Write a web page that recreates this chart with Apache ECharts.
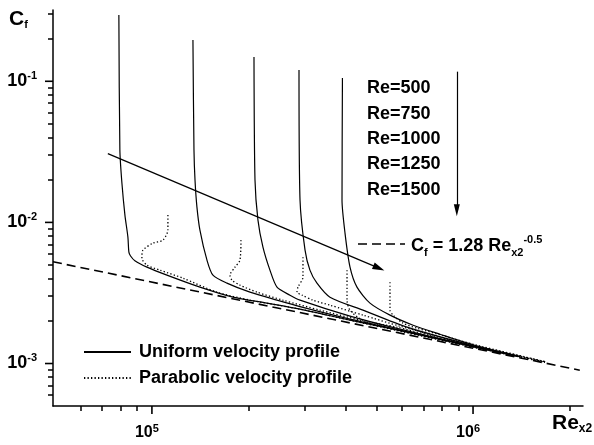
<!DOCTYPE html>
<html><head><meta charset="utf-8">
<script src="https://cdn.jsdelivr.net/npm/echarts@6/dist/echarts.min.js"></script>
<style>html,body{margin:0;padding:0;background:#fff}#c{width:594px;height:445px}</style>
</head><body><div id="c"></div>
<script>
// ---------- data (Re_x2, Cf) ----------
const uniform500  = [[78900,0.2951],[79470,0.03257],[80640,0.0190],[82400,0.01127],[84180,0.007866],[84780,0.00616],[85800,0.00578],[88500,0.00535],[96480,0.004819],[111350,0.004228],[141100,0.003476],[178800,0.002953],[228200,0.002678],[289200,0.002428],[413900,0.002028],[592400,0.001709],[1000000,0.001316],[1401000,0.001117]];
const uniform750  = [[134200,0.1963],[135200,0.03257],[136200,0.01995],[138100,0.01284],[141100,0.00882],[148400,0.005402],[154900,0.004228],[171200,0.003711],[202000,0.003204],[245200,0.002811],[289200,0.002528],[413900,0.002062],[592400,0.001723],[1000000,0.001316],[1401000,0.001117]];
const uniform1000 = [[207900,0.1487],[209400,0.01995],[213900,0.01038],[221700,0.00668],[233100,0.004589],[245200,0.003476],[269100,0.003051],[289200,0.002811],[413900,0.002166],[592400,0.001751],[1000000,0.001327],[1401000,0.001117]];
const uniform1250 = [[287100,0.1202],[289200,0.01439],[299800,0.00636],[310500,0.004589],[326600,0.003711],[358500,0.002953],[454300,0.002388],[622900,0.001809],[1000000,0.001337],[1401000,0.001117]];
const uniform1500 = [[392000,0.1055],[390800,0.01439],[399300,0.008397],[413900,0.004819],[435100,0.003476],[477600,0.002678],[551300,0.002202],[650500,0.001869],[789200,0.001613],[1000000,0.001359],[1401000,0.001117]];

const parabolic500  = [[112150,0.01127],[112150,0.00882],[108200,0.007489],[100700,0.007131],[93760,0.00636],[93070,0.005581],[96480,0.004979],[105900,0.004589],[124900,0.004027],[159400,0.003204],[202000,0.002811],[289200,0.002428],[413900,0.002028],[592400,0.001695],[1000000,0.001305],[1676000,0.001021]];
const parabolic750  = [[189400,0.007489],[188000,0.005402],[181400,0.004819],[175000,0.004228],[177500,0.003899],[188000,0.003591],[212400,0.003204],[255900,0.002811],[333800,0.002388],[444600,0.002028],[592400,0.001709],[1000000,0.001316],[1676000,0.001021]];
const parabolic1000 = [[295400,0.005673],[295400,0.004093],[285000,0.003476],[282900,0.003204],[293300,0.003051],[317500,0.002811],[358500,0.002591],[454300,0.002202],[592400,0.001839],[1000000,0.001348],[1676000,0.001021]];
const parabolic1250 = [[405100,0.004589],[405100,0.002811],[413900,0.002388],[454300,0.002028],[579800,0.001809],[734500,0.001587],[1000000,0.001348],[1676000,0.00103]];
const parabolic1500 = [[551300,0.003773],[551300,0.002388],[563500,0.002202],[605300,0.001931],[669200,0.00178],[817900,0.001562],[1000000,0.00137],[1676000,0.00103]];

const correlationLine = [[49200,0.00526],[2150000,0.000897]];

const trendArrow = [[72900,0.0307],[509000,0.00474]];
const reArrow    = [[890000,0.117],[890000,0.0122]];

const xMajorTicks = [1e5, 1e6];
const xMinorTicks = [6e4,7e4,8e4,9e4,2e5,3e5,4e5,5e5,6e5,7e5,8e5,9e5,2e6];
const yMajorTicks = [1e-3, 1e-2, 1e-1];
const yMinorTicks = [6e-4,7e-4,8e-4,9e-4,2e-3,3e-3,4e-3,5e-3,6e-3,7e-3,8e-3,9e-3,2e-2,3e-2,4e-2,5e-2,6e-2,7e-2,8e-2,9e-2,0.2,0.3];
const reLabels = ['Re=500','Re=750','Re=1000','Re=1250','Re=1500'];
const legendNames = ['Uniform velocity profile','Parabolic velocity profile'];

const X_MIN = 4.92e4, X_MAX = 2.2e6, Y_MIN = 5e-4, Y_MAX = 0.32;

// ---------- chart ----------
const FONT = '"Liberation Sans", Arial, Helvetica, sans-serif';
const chart = echarts.init(document.getElementById('c'), null, {renderer:'canvas'});

function pow10(v){ return '{b|10}{s|' + Math.round(Math.log10(v)) + '}'; }
const labRich = (big, small) => ({
  b:{fontFamily:FONT,fontWeight:'bold',fontSize:big,color:'#000',lineHeight:big+4},
  s:{fontFamily:FONT,fontWeight:'bold',fontSize:small,color:'#000',verticalAlign:'top',lineHeight:small+1}
});

function axis(dim){
  const isX = dim === 'x';
  return {type:'log', logBase:10, min:isX?X_MIN:Y_MIN, max:isX?X_MAX:Y_MAX,
    splitLine:{show:false},
    axisLine:{show:true, lineStyle:{color:'#000', width:1.5}},
    axisTick:{show:true, inside:false, length:5, customValues: isX?xMinorTicks:yMinorTicks, lineStyle:{color:'#000', width:1.5}},
    axisLabel:{show:true, customValues: isX?xMajorTicks:yMajorTicks, formatter:pow10, margin: isX?17:16,
      padding: isX?[0,10,0,0]:0, rich: labRich(isX?16:18, 11)}
  };
}

const solidStyle = {color:'#000', width:1.2, type:'solid'};
const dotStyle = {color:'#000', width:1.3, type:[1.3,2.2]};
function curve(name, data, style){
  return {type:'line', name:name, data:data, symbol:'none', smooth:0.25,
    lineStyle:style, itemStyle:{color:'#000'}, emphasis:{disabled:true}, silent:true, animation:false};
}

const series = [
  curve(legendNames[0], uniform500, solidStyle),
  curve(legendNames[0], uniform750, solidStyle),
  curve(legendNames[0], uniform1000, solidStyle),
  curve(legendNames[0], uniform1250, solidStyle),
  curve(legendNames[0], uniform1500, solidStyle),
  curve(legendNames[1], parabolic500, dotStyle),
  curve(legendNames[1], parabolic750, dotStyle),
  curve(legendNames[1], parabolic1000, dotStyle),
  curve(legendNames[1], parabolic1250, dotStyle),
  curve(legendNames[1], parabolic1500, dotStyle),
  Object.assign(curve('Cf correlation', correlationLine, {color:'#000', width:1.6, type:[9,5]}), {
    smooth:false,
    markLine:{
      silent:true, animation:false, label:{show:false}, emphasis:{disabled:true},
      lineStyle:{color:'#000', width:1.2, type:'solid'},
      symbol:['none','triangle'], symbolSize:[1,12],
      data:[
        [{coord:trendArrow[0], symbol:'none'}, {coord:trendArrow[1], symbol:'triangle', symbolSize:[7,12]}],
        [{coord:reArrow[0], symbol:'none'}, {coord:reArrow[1], symbol:'triangle', symbolSize:[6,12]}]
      ]
    }
  })
];

const graphics = [
  {type:'text', left:9, top:9, style:{text:'{c|C}{f|f}', rich:{
    c:{fontFamily:FONT,fontWeight:'bold',fontSize:21,fill:'#000',lineHeight:22},
    f:{fontFamily:FONT,fontWeight:'bold',fontSize:11,fill:'#000',verticalAlign:'bottom',lineHeight:12}}}},
  {type:'text', left:552, top:413, style:{text:'{c|Re}{f|x2}', rich:{
    c:{fontFamily:FONT,fontWeight:'bold',fontSize:21,fill:'#000',lineHeight:22},
    f:{fontFamily:FONT,fontWeight:'bold',fontSize:12,fill:'#000',verticalAlign:'bottom',lineHeight:10}}}},
  {type:'line', shape:{x1:358,y1:244,x2:405,y2:244}, style:{stroke:'#000', lineWidth:1.6, lineDash:[9,5]}},
  {type:'text', x:411, y:246, style:{text:'{b|C}{sub|f}{b| = 1.28 Re}{sub|x2}{sup|-0.5}', verticalAlign:'middle', rich:{
    b:{fontFamily:FONT,fontWeight:'bold',fontSize:18,fill:'#000',lineHeight:24},
    sub:{fontFamily:FONT,fontWeight:'bold',fontSize:11,fill:'#000',verticalAlign:'bottom',lineHeight:9},
    sup:{fontFamily:FONT,fontWeight:'bold',fontSize:11,fill:'#000',verticalAlign:'top',lineHeight:7}}}}
];
const reY = [88,114,139,164,190];
reLabels.forEach((t,i)=>graphics.push({type:'text', x:367, y:reY[i], style:{text:t, font:'bold 18px '+FONT, fill:'#000', verticalAlign:'middle'}}));

chart.setOption({
  animation:false,
  grid:{left:53, right:11, top:10, bottom:39},
  xAxis: axis('x'),
  yAxis: axis('y'),
  legend:{data:legendNames, orient:'vertical', left:83, top:342, padding:0, itemWidth:47, itemHeight:14, itemGap:6,
    selectedMode:false, itemStyle:{opacity:0, borderWidth:0},
    textStyle:{fontFamily:FONT, fontWeight:'bold', fontSize:18, color:'#000', lineHeight:20, padding:[0,0,0,3]}},
  series: series,
  graphic: graphics
});

// longer major ticks, placed through the axes' own scales
const majorTickEls = [];
xMajorTicks.forEach(v => {
  const p = chart.convertToPixel({xAxisIndex:0, yAxisIndex:0}, [v, Y_MIN]);
  majorTickEls.push({type:'line', shape:{x1:p[0], y1:p[1], x2:p[0], y2:p[1]+8}, style:{stroke:'#000', lineWidth:1.6}});
});
yMajorTicks.forEach(v => {
  const p = chart.convertToPixel({xAxisIndex:0, yAxisIndex:0}, [X_MIN, v]);
  majorTickEls.push({type:'line', shape:{x1:p[0], y1:p[1], x2:p[0]-8, y2:p[1]}, style:{stroke:'#000', lineWidth:1.6}});
});
chart.setOption({graphic: graphics.concat(majorTickEls)});
</script></body></html>
